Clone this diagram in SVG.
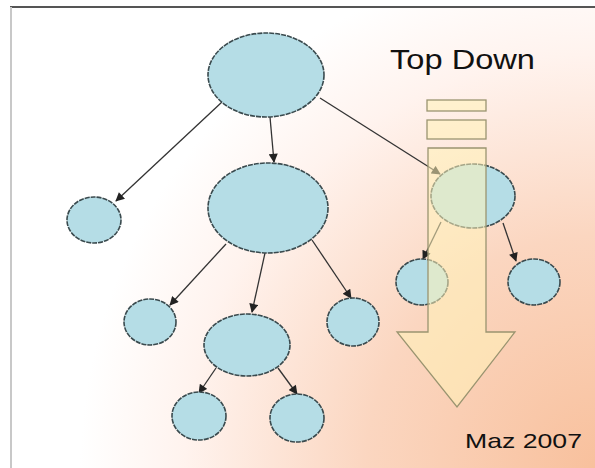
<svg xmlns="http://www.w3.org/2000/svg" width="595" height="468" viewBox="0 0 595 468">
<defs>
<radialGradient id="bg" cx="600" cy="470" r="520" gradientUnits="userSpaceOnUse">
<stop offset="0" stop-color="#f8c09c"/>
<stop offset="0.45" stop-color="#fbd6c0"/>
<stop offset="0.8" stop-color="#fff3ee"/>
<stop offset="1" stop-color="#ffffff"/>
</radialGradient>
<marker id="ah" viewBox="0 0 10 10" refX="9" refY="5" markerWidth="10" markerHeight="9" orient="auto" markerUnits="userSpaceOnUse">
<path d="M0,0 L10,5 L0,10 z" fill="#222"/>
</marker>
<style>
.n{fill:#b5dde6;stroke:#3a4a4e;stroke-width:1.6;stroke-dasharray:5 1}
.c{stroke:#333;stroke-width:1.3;fill:none;marker-end:url(#ah)}
.y{fill:#fff2b8;fill-opacity:0.55;stroke:#9a9470;stroke-width:1.3}
.t{font-family:"Liberation Sans",Arial,sans-serif;fill:#111}
</style>
</defs>
<rect x="0" y="0" width="595" height="468" fill="#ffffff"/>
<rect x="11" y="7" width="584" height="461" fill="url(#bg)"/>
<line x1="10" y1="7" x2="595" y2="7" stroke="#555" stroke-width="2"/>
<line x1="11" y1="7" x2="11" y2="468" stroke="#c8c8c8" stroke-width="2"/>
<g id="connectors">
<line class="c" x1="222" y1="102" x2="116" y2="201"/>
<line class="c" x1="270" y1="117" x2="274" y2="162"/>
<line class="c" x1="320" y1="98" x2="440" y2="174"/>
<line class="c" x1="226" y1="244" x2="170" y2="305"/>
<line class="c" x1="265" y1="253" x2="252" y2="312"/>
<line class="c" x1="312" y1="240" x2="351" y2="298"/>
<line class="c" x1="216" y1="368" x2="199" y2="393"/>
<line class="c" x1="278" y1="368" x2="297" y2="394"/>
<line class="c" x1="441" y1="222" x2="423" y2="259"/>
<line class="c" x1="503" y1="223" x2="516" y2="261"/>
</g>
<g id="n-root"><ellipse class="n" cx="266" cy="75" rx="58" ry="42"/></g>
<g id="n-left"><ellipse class="n" cx="94" cy="220" rx="27" ry="23"/></g>
<g id="n-mid"><ellipse class="n" cx="268" cy="208" rx="60" ry="45"/></g>
<g id="n-right"><ellipse class="n" cx="473" cy="196" rx="42" ry="32"/></g>
<g id="n-rl"><ellipse class="n" cx="422" cy="282" rx="26" ry="23"/></g>
<g id="n-rr"><ellipse class="n" cx="534" cy="282" rx="26" ry="23"/></g>
<g id="n-ml"><ellipse class="n" cx="150" cy="322" rx="26" ry="23"/></g>
<g id="n-mm"><ellipse class="n" cx="247" cy="345" rx="43" ry="31"/></g>
<g id="n-mr"><ellipse class="n" cx="353" cy="322" rx="26" ry="24"/></g>
<g id="n-bl"><ellipse class="n" cx="199" cy="416" rx="27" ry="24"/></g>
<g id="n-br"><ellipse class="n" cx="297" cy="418" rx="27" ry="24"/></g>
<g id="topdown">
<rect class="y" x="427" y="100" width="59" height="11"/>
<rect class="y" x="427" y="120" width="59" height="19"/>
<path class="y" d="M428,148 L486,148 L486,332 L515,332 L457,407 L397,332 L428,332 Z"/>
<text class="t" x="390" y="69" font-size="28" textLength="145" lengthAdjust="spacingAndGlyphs">Top Down</text>
</g>
<text class="t" x="465" y="448" font-size="21" textLength="117" lengthAdjust="spacingAndGlyphs" fill="#222">Maz 2007</text>
</svg>
